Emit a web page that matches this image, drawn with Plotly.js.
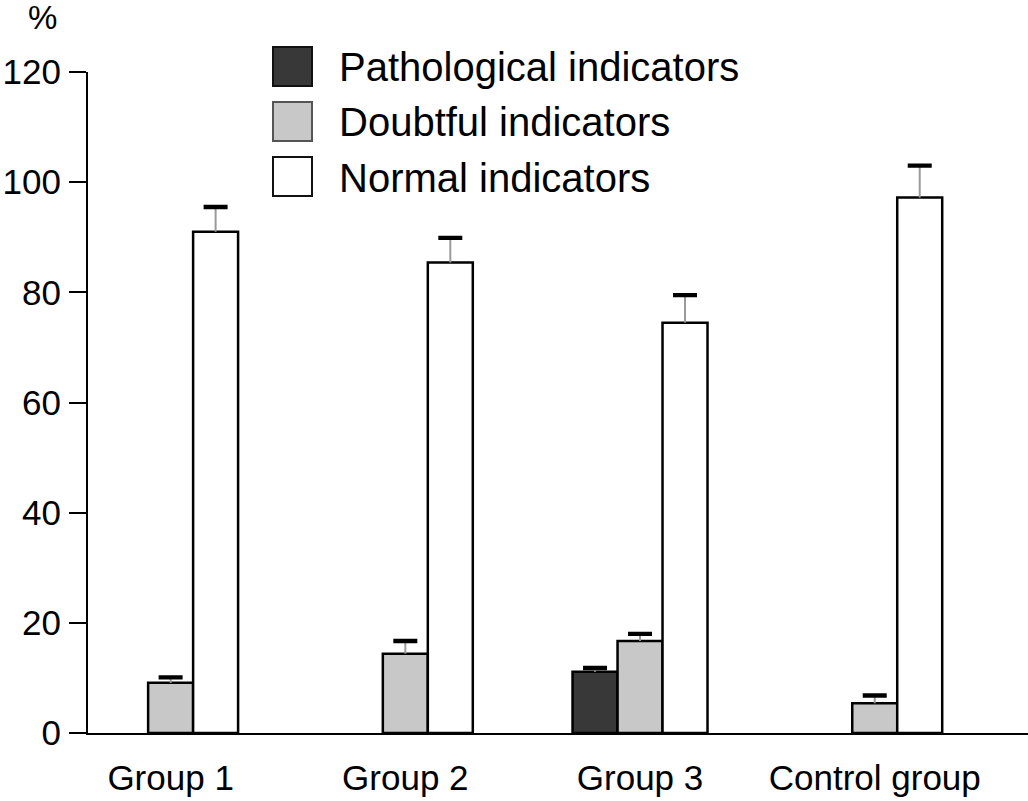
<!DOCTYPE html>
<html>
<head>
<meta charset="utf-8">
<script src="https://cdn.plot.ly/plotly-3.0.1.min.js"></script>
<style>
  html, body { margin: 0; padding: 0; background: #ffffff; }
  #chart { width: 1028px; height: 801px; }
</style>
</head>
<body>
<div id="chart"></div>
<script>
// ---------- data ----------
var categories = ["Group 1", "Group 2", "Group 3", "Control group"];
var seriesNames = ["Pathological indicators", "Doubtful indicators", "Normal indicators"];
var pathologicalValues = [0, 0, 11.1, 0];
var pathologicalErrors = [0, 0, 0.7, 0];
var doubtfulValues = [9.1, 14.4, 16.7, 5.4];
var doubtfulErrors = [1.0, 2.3, 1.3, 1.4];
var normalValues = [91.0, 85.4, 74.5, 97.2];
var normalErrors = [4.5, 4.5, 5.0, 5.8];
var yTickValues = [0, 20, 40, 60, 80, 100, 120];
var yUnitLabel = "%";

// ---------- styles ----------
var FONT = "Liberation Sans, Arial, Helvetica, sans-serif";
var fills = ["#383838", "#c8c8c8", "#ffffff"];
var swatchLines = ["#111111", "#555555", "#111111"];
var seriesValues = [pathologicalValues, doubtfulValues, normalValues];
var seriesErrors = [pathologicalErrors, doubtfulErrors, normalErrors];

var traces = [];
// main bars with thin grey upward stems (zero values are not drawn, as in the original)
seriesValues.forEach(function (vals, s) {
  traces.push({
    type: "bar",
    name: seriesNames[s],
    x: categories,
    y: vals.map(function (v) { return v > 0 ? v : null; }),
    offsetgroup: String(s),
    marker: { color: fills[s], line: { color: "#000000", width: 2.5 } },
    error_y: {
      type: "data",
      symmetric: false,
      array: seriesErrors[s],
      arrayminus: seriesErrors[s].map(function () { return 0; }),
      color: "#9a9a9a",
      thickness: 2,
      width: 0,
      visible: true
    },
    showlegend: false,
    hoverinfo: "skip"
  });
});
// thick black caps at mean + error (transparent bars carrying the cap)
seriesValues.forEach(function (vals, s) {
  var errs = seriesErrors[s];
  traces.push({
    type: "bar",
    x: categories,
    y: vals.map(function (v, i) { return errs[i] > 0 ? v + errs[i] : null; }),
    offsetgroup: String(s),
    marker: { color: "rgba(0,0,0,0)", line: { width: 0 } },
    error_y: {
      type: "data",
      array: vals.map(function () { return 0.05; }),
      color: "#000000",
      thickness: 3.8,
      width: 12,
      visible: true
    },
    showlegend: false,
    hoverinfo: "skip"
  });
});

// ---------- layout helpers (legend drawn in pixel space) ----------
var M = { l: 88, r: 0, t: 72, b: 68 };
var W = 1028, H = 801;
var plotW = W - M.l - M.r, plotH = H - M.t - M.b;
function px(xp) { return (xp - M.l) / plotW; }
function py(yp) { return (H - M.b - yp) / plotH; }

var legendSwatchLeft = 273, legendSwatchSize = 39, legendTop = 47, legendRowStep = 55, legendTextLeft = 337;
var shapes = [], annotations = [];
seriesNames.forEach(function (name, s) {
  var top = legendTop + s * legendRowStep;
  shapes.push({
    type: "rect", xref: "paper", yref: "paper",
    x0: px(legendSwatchLeft), x1: px(legendSwatchLeft + legendSwatchSize),
    y0: py(top + legendSwatchSize), y1: py(top),
    fillcolor: fills[s], line: { color: swatchLines[s], width: 2 }
  });
  annotations.push({
    xref: "paper", yref: "paper",
    x: px(legendTextLeft), y: py(top + legendSwatchSize / 2 + 1),
    xanchor: "left", yanchor: "middle",
    text: name, showarrow: false,
    font: { family: FONT, size: 40, color: "#000000" }
  });
});
annotations.push({
  xref: "paper", yref: "paper",
  x: px(42), y: py(17), xanchor: "center", yanchor: "middle",
  text: yUnitLabel, showarrow: false,
  font: { family: FONT, size: 33, color: "#000000" }
});

var layout = {
  width: W, height: H,
  margin: M,
  paper_bgcolor: "#ffffff",
  plot_bgcolor: "#ffffff",
  barmode: "group",
  bargap: 0.425,
  bargroupgap: 0,
  showlegend: false,
  font: { family: FONT, color: "#000000" },
  xaxis: {
    type: "category",
    range: [-0.352, 3.653],
    showline: true, linecolor: "#000000", linewidth: 1.5,
    ticks: "", showgrid: false, zeroline: false,
    tickfont: { family: FONT, size: 35, color: "#000000" },
    ticklabelstandoff: 13,
    fixedrange: true
  },
  yaxis: {
    range: [0, 120],
    tickvals: yTickValues,
    ticktext: yTickValues.map(String),
    showline: true, linecolor: "#000000", linewidth: 2,
    ticks: "outside", ticklen: 17, tickwidth: 2, tickcolor: "#000000",
    showgrid: false, zeroline: false,
    tickfont: { family: FONT, size: 35, color: "#000000" },
    ticklabelstandoff: 1,
    fixedrange: true
  },
  shapes: shapes,
  annotations: annotations
};

Plotly.newPlot("chart", traces, layout, { displayModeBar: false, staticPlot: true });
</script>
</body>
</html>
